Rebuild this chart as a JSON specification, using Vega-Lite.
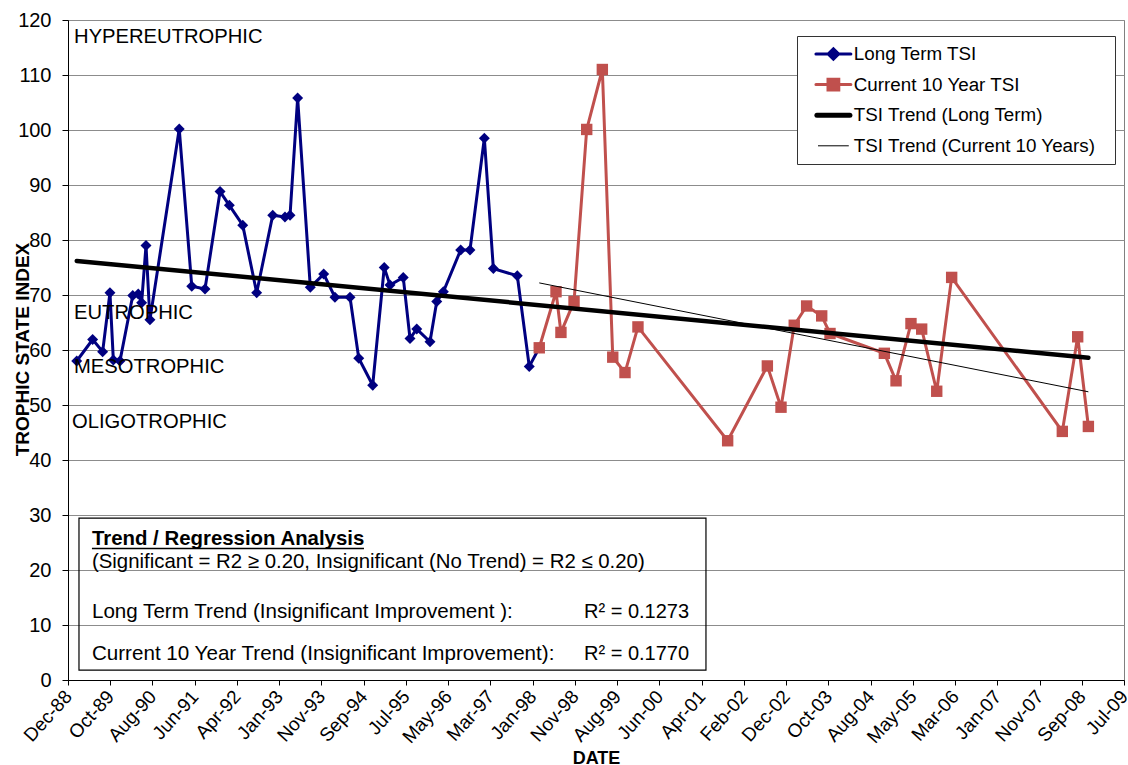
{
  "$schema": "https://vega.github.io/schema/vega-lite/v6.json",
  "width": 1056,
  "height": 660,
  "autosize": {"type": "none"},
  "padding": {"left": 68, "top": 20, "right": 4, "bottom": 85},
  "background": "white",
  "config": {
    "font": "Liberation Sans",
    "view": {"stroke": "#808080", "strokeWidth": 1},
    "axis": {
      "labelFont": "Liberation Sans",
      "titleFont": "Liberation Sans",
      "labelColor": "black",
      "titleColor": "black",
      "domainColor": "black",
      "tickColor": "black",
      "gridColor": "#8c8c8c",
      "gridWidth": 1
    }
  },
  "datasets": {
    "tsi": [
      {"date": "1989-02-23", "tsi": 58.0, "series": "Long Term TSI"},
      {"date": "1989-06-16", "tsi": 61.9, "series": "Long Term TSI"},
      {"date": "1989-08-26", "tsi": 59.7, "series": "Long Term TSI"},
      {"date": "1989-10-17", "tsi": 70.4, "series": "Long Term TSI"},
      {"date": "1989-11-10", "tsi": 58.2, "series": "Long Term TSI"},
      {"date": "1989-12-27", "tsi": 58.0, "series": "Long Term TSI"},
      {"date": "1990-03-28", "tsi": 69.9, "series": "Long Term TSI"},
      {"date": "1990-05-06", "tsi": 70.2, "series": "Long Term TSI"},
      {"date": "1990-05-30", "tsi": 68.6, "series": "Long Term TSI"},
      {"date": "1990-06-30", "tsi": 79.0, "series": "Long Term TSI"},
      {"date": "1990-07-28", "tsi": 65.5, "series": "Long Term TSI"},
      {"date": "1991-02-21", "tsi": 100.2, "series": "Long Term TSI"},
      {"date": "1991-05-21", "tsi": 71.6, "series": "Long Term TSI"},
      {"date": "1991-08-23", "tsi": 71.1, "series": "Long Term TSI"},
      {"date": "1991-12-08", "tsi": 88.8, "series": "Long Term TSI"},
      {"date": "1992-02-12", "tsi": 86.3, "series": "Long Term TSI"},
      {"date": "1992-05-17", "tsi": 82.7, "series": "Long Term TSI"},
      {"date": "1992-08-24", "tsi": 70.4, "series": "Long Term TSI"},
      {"date": "1992-12-16", "tsi": 84.5, "series": "Long Term TSI"},
      {"date": "1993-03-13", "tsi": 84.2, "series": "Long Term TSI"},
      {"date": "1993-04-18", "tsi": 84.5, "series": "Long Term TSI"},
      {"date": "1993-06-11", "tsi": 105.8, "series": "Long Term TSI"},
      {"date": "1993-09-09", "tsi": 71.4, "series": "Long Term TSI"},
      {"date": "1993-12-13", "tsi": 73.8, "series": "Long Term TSI"},
      {"date": "1994-03-03", "tsi": 69.6, "series": "Long Term TSI"},
      {"date": "1994-06-18", "tsi": 69.6, "series": "Long Term TSI"},
      {"date": "1994-08-19", "tsi": 58.5, "series": "Long Term TSI"},
      {"date": "1994-11-26", "tsi": 53.6, "series": "Long Term TSI"},
      {"date": "1995-02-16", "tsi": 75.0, "series": "Long Term TSI"},
      {"date": "1995-03-29", "tsi": 71.8, "series": "Long Term TSI"},
      {"date": "1995-07-01", "tsi": 73.2, "series": "Long Term TSI"},
      {"date": "1995-08-18", "tsi": 62.1, "series": "Long Term TSI"},
      {"date": "1995-10-05", "tsi": 63.8, "series": "Long Term TSI"},
      {"date": "1996-01-07", "tsi": 61.5, "series": "Long Term TSI"},
      {"date": "1996-02-24", "tsi": 68.8, "series": "Long Term TSI"},
      {"date": "1996-04-11", "tsi": 70.6, "series": "Long Term TSI"},
      {"date": "1996-08-12", "tsi": 78.2, "series": "Long Term TSI"},
      {"date": "1996-10-17", "tsi": 78.2, "series": "Long Term TSI"},
      {"date": "1997-01-27", "tsi": 98.5, "series": "Long Term TSI"},
      {"date": "1997-04-01", "tsi": 74.8, "series": "Long Term TSI"},
      {"date": "1997-09-18", "tsi": 73.5, "series": "Long Term TSI"},
      {"date": "1997-12-12", "tsi": 57.0, "series": "Long Term TSI"},
      {"date": "1998-02-21", "tsi": 60.4, "series": "Long Term TSI"},
      {"date": "1998-02-21", "tsi": 60.4, "series": "Current 10 Year TSI"},
      {"date": "1998-06-20", "tsi": 70.6, "series": "Current 10 Year TSI"},
      {"date": "1998-07-25", "tsi": 63.2, "series": "Current 10 Year TSI"},
      {"date": "1998-10-26", "tsi": 68.8, "series": "Current 10 Year TSI"},
      {"date": "1999-01-24", "tsi": 100.1, "series": "Current 10 Year TSI"},
      {"date": "1999-05-15", "tsi": 111.0, "series": "Current 10 Year TSI"},
      {"date": "1999-07-28", "tsi": 58.7, "series": "Current 10 Year TSI"},
      {"date": "1999-10-23", "tsi": 55.9, "series": "Current 10 Year TSI"},
      {"date": "2000-01-23", "tsi": 64.2, "series": "Current 10 Year TSI"},
      {"date": "2001-10-21", "tsi": 43.5, "series": "Current 10 Year TSI"},
      {"date": "2002-07-30", "tsi": 57.1, "series": "Current 10 Year TSI"},
      {"date": "2002-11-04", "tsi": 49.6, "series": "Current 10 Year TSI"},
      {"date": "2003-02-06", "tsi": 64.5, "series": "Current 10 Year TSI"},
      {"date": "2003-05-05", "tsi": 68.0, "series": "Current 10 Year TSI"},
      {"date": "2003-08-20", "tsi": 66.2, "series": "Current 10 Year TSI"},
      {"date": "2003-10-18", "tsi": 63.0, "series": "Current 10 Year TSI"},
      {"date": "2004-11-07", "tsi": 59.4, "series": "Current 10 Year TSI"},
      {"date": "2005-01-29", "tsi": 54.4, "series": "Current 10 Year TSI"},
      {"date": "2005-05-15", "tsi": 64.8, "series": "Current 10 Year TSI"},
      {"date": "2005-07-30", "tsi": 63.8, "series": "Current 10 Year TSI"},
      {"date": "2005-11-14", "tsi": 52.5, "series": "Current 10 Year TSI"},
      {"date": "2006-02-28", "tsi": 73.2, "series": "Current 10 Year TSI"},
      {"date": "2008-04-24", "tsi": 45.2, "series": "Current 10 Year TSI"},
      {"date": "2008-08-11", "tsi": 62.4, "series": "Current 10 Year TSI"},
      {"date": "2008-10-26", "tsi": 46.1, "series": "Current 10 Year TSI"}
    ],
    "trend": [
      {"date": "1989-02-23", "tsi": 76.2, "series": "TSI Trend (Long Term)"},
      {"date": "2008-10-26", "tsi": 58.6, "series": "TSI Trend (Long Term)"},
      {"date": "1998-02-21", "tsi": 72.2, "series": "TSI Trend (Current 10 Years)"},
      {"date": "2008-10-26", "tsi": 52.4, "series": "TSI Trend (Current 10 Years)"}
    ]
  },
  "layer": [
    {
      "data": {"name": "tsi"},
      "transform": [{"filter": "datum.series === 'Long Term TSI'"}],
      "mark": {"type": "line", "strokeWidth": 3},
      "encoding": {
        "x": {
          "field": "date", "type": "temporal",
          "scale": {"type": "utc", "nice": false, "domain": [{"utc": true, "year": 1988, "month": 12, "date": 23}, {"utc": true, "year": 2009, "month": 7, "date": 6}]},
          "axis": {
            "title": "DATE",
            "values": [
              {"utc": true, "year": 1988, "month": 12, "date": 23},
              {"utc": true, "year": 1989, "month": 10, "date": 19},
              {"utc": true, "year": 1990, "month": 8, "date": 15},
              {"utc": true, "year": 1991, "month": 6, "date": 11},
              {"utc": true, "year": 1992, "month": 4, "date": 6},
              {"utc": true, "year": 1993, "month": 1, "date": 31},
              {"utc": true, "year": 1993, "month": 11, "date": 27},
              {"utc": true, "year": 1994, "month": 9, "date": 23},
              {"utc": true, "year": 1995, "month": 7, "date": 20},
              {"utc": true, "year": 1996, "month": 5, "date": 15},
              {"utc": true, "year": 1997, "month": 3, "date": 11},
              {"utc": true, "year": 1998, "month": 1, "date": 5},
              {"utc": true, "year": 1998, "month": 11, "date": 1},
              {"utc": true, "year": 1999, "month": 8, "date": 28},
              {"utc": true, "year": 2000, "month": 6, "date": 23},
              {"utc": true, "year": 2001, "month": 4, "date": 19},
              {"utc": true, "year": 2002, "month": 2, "date": 13},
              {"utc": true, "year": 2002, "month": 12, "date": 10},
              {"utc": true, "year": 2003, "month": 10, "date": 6},
              {"utc": true, "year": 2004, "month": 8, "date": 1},
              {"utc": true, "year": 2005, "month": 5, "date": 28},
              {"utc": true, "year": 2006, "month": 3, "date": 24},
              {"utc": true, "year": 2007, "month": 1, "date": 18},
              {"utc": true, "year": 2007, "month": 11, "date": 14},
              {"utc": true, "year": 2008, "month": 9, "date": 9},
              {"utc": true, "year": 2009, "month": 7, "date": 6}
            ],
            "format": "%b-%y",
            "labelAngle": -48,
            "labelAlign": "right",
            "labelBaseline": "middle",
            "labelFontSize": 19,
            "labelPadding": 8,
            "labelOverlap": false,
            "labelFlush": false,
            "labelBound": false,
            "tickSize": 5,
            "grid": false,
            "titleFontSize": 18,
            "titleFontWeight": "bold",
            "titleBaseline": "alphabetic",
            "titleY": 83
          }
        },
        "y": {
          "field": "tsi", "type": "quantitative",
          "scale": {"domain": [0, 120], "nice": false},
          "axis": {
            "title": "TROPHIC STATE INDEX",
            "values": [0, 10, 20, 30, 40, 50, 60, 70, 80, 90, 100, 110, 120],
            "labelFontSize": 20,
            "labelPadding": 11,
            "tickSize": 6,
            "grid": true,
            "titleFontSize": 19,
            "titleFontWeight": "bold",
            "titleX": -46,
            "titleY": 329,
            "titleAngle": -90,
            "titleAlign": "center",
            "titleBaseline": "middle"
          }
        },
        "color": {
          "field": "series", "type": "nominal",
          "scale": {
            "domain": ["Long Term TSI", "Current 10 Year TSI", "TSI Trend (Long Term)", "TSI Trend (Current 10 Years)"],
            "range": ["#000080", "#C0504D", "#000000", "#000000"]
          },
          "legend": {
            "title": null,
            "orient": "none",
            "legendX": 729,
            "legendY": 16,
            "direction": "vertical",
            "fillColor": "white",
            "strokeColor": "#333333",
            "padding": 8,
            "labelFont": "Liberation Sans",
            "labelFontSize": 18.8,
            "labelColor": "black",
            "labelLimit": 400,
            "labelExpr": "datum.label + '\u00a0\u00a0\u200b'",
            "symbolSize": 225,
            "symbolStrokeWidth": 1.5,
            "symbolOffset": 19,
            "labelOffset": 11,
            "clipHeight": 20,
            "rowPadding": 10.6,
            "encode": {
              "symbols": {
                "update": {
                  "shape": {"signal": "datum.value === 'Long Term TSI' ? 'M-2.33,0L2.33,0M0,-0.7L0.7,0L0,0.7L-0.7,0Z' : datum.value === 'Current 10 Year TSI' ? 'M-2.33,0L2.33,0M-0.72,-0.72L0.72,-0.72L0.72,0.72L-0.72,0.72Z' : datum.value === 'TSI Trend (Long Term)' ? 'M-2.2,0L2.2,0' : 'M-2.0,0L2.0,0'"},
                  "strokeWidth": {"signal": "datum.value === 'TSI Trend (Long Term)' ? 5 : datum.value === 'TSI Trend (Current 10 Years)' ? 1 : 3"},
                  "fill": {"signal": "datum.value === 'Long Term TSI' ? '#000080' : datum.value === 'Current 10 Year TSI' ? '#C0504D' : 'transparent'"},
                  "stroke": {"signal": "datum.value === 'Long Term TSI' ? '#000080' : datum.value === 'Current 10 Year TSI' ? '#C0504D' : '#000000'"},
                  "strokeCap": {"value": "round"},
                  "opacity": {"value": 1}
                }
              }
            }
          }
        }
      }
    },
    {
      "data": {"name": "tsi"},
      "transform": [{"filter": "datum.series === 'Long Term TSI'"}],
      "mark": {"type": "point", "shape": "diamond", "filled": true, "size": 120, "opacity": 1},
      "encoding": {
        "x": {"field": "date", "type": "temporal"},
        "y": {"field": "tsi", "type": "quantitative"},
        "color": {"field": "series", "type": "nominal"}
      }
    },
    {
      "data": {"name": "tsi"},
      "transform": [{"filter": "datum.series === 'Current 10 Year TSI'"}],
      "mark": {"type": "line", "strokeWidth": 3},
      "encoding": {
        "x": {"field": "date", "type": "temporal"},
        "y": {"field": "tsi", "type": "quantitative"},
        "color": {"field": "series", "type": "nominal"}
      }
    },
    {
      "data": {"name": "tsi"},
      "transform": [{"filter": "datum.series === 'Current 10 Year TSI'"}],
      "mark": {"type": "point", "shape": "square", "filled": true, "size": 130, "opacity": 1},
      "encoding": {
        "x": {"field": "date", "type": "temporal"},
        "y": {"field": "tsi", "type": "quantitative"},
        "color": {"field": "series", "type": "nominal"}
      }
    },
    {
      "data": {"name": "trend"},
      "transform": [{"filter": "datum.series === 'TSI Trend (Long Term)'"}],
      "mark": {"type": "line", "strokeWidth": 4.5, "strokeCap": "round"},
      "encoding": {
        "x": {"field": "date", "type": "temporal"},
        "y": {"field": "tsi", "type": "quantitative"},
        "color": {"field": "series", "type": "nominal"}
      }
    },
    {
      "data": {"name": "trend"},
      "transform": [{"filter": "datum.series === 'TSI Trend (Current 10 Years)'"}],
      "mark": {"type": "line", "strokeWidth": 1},
      "encoding": {
        "x": {"field": "date", "type": "temporal"},
        "y": {"field": "tsi", "type": "quantitative"},
        "color": {"field": "series", "type": "nominal"}
      }
    },
    {
      "data": {"values": [{}]},
      "mark": {"type": "text", "align": "left", "baseline": "alphabetic", "fontSize": 20.2, "color": "black"},
      "encoding": {
        "x": {"datum": {"utc": true, "year": 1989, "month": 2, "date": 4}, "type": "temporal"},
        "y": {"datum": 115.8, "type": "quantitative"},
        "text": {"value": "HYPEREUTROPHIC"}
      }
    },
    {
      "data": {"values": [{}]},
      "mark": {"type": "text", "align": "left", "baseline": "alphabetic", "fontSize": 20.2, "color": "black"},
      "encoding": {
        "x": {"datum": {"utc": true, "year": 1989, "month": 2, "date": 4}, "type": "temporal"},
        "y": {"datum": 65.6, "type": "quantitative"},
        "text": {"value": "EUTROPHIC"}
      }
    },
    {
      "data": {"values": [{}]},
      "mark": {"type": "text", "align": "left", "baseline": "alphabetic", "fontSize": 20.2, "color": "black"},
      "encoding": {
        "x": {"datum": {"utc": true, "year": 1989, "month": 2, "date": 4}, "type": "temporal"},
        "y": {"datum": 55.9, "type": "quantitative"},
        "text": {"value": "MESOTROPHIC"}
      }
    },
    {
      "data": {"values": [{}]},
      "mark": {"type": "text", "align": "left", "baseline": "alphabetic", "fontSize": 20.2, "color": "black"},
      "encoding": {
        "x": {"datum": {"utc": true, "year": 1989, "month": 1, "date": 21}, "type": "temporal"},
        "y": {"datum": 45.8, "type": "quantitative"},
        "text": {"value": "OLIGOTROPHIC"}
      }
    },
    {
      "data": {"values": [{}]},
      "mark": {"type": "rect", "fill": null, "fillOpacity": 0, "stroke": "#000000", "strokeWidth": 1.2},
      "encoding": {
        "x": {"datum": {"utc": true, "year": 1989, "month": 3, "date": 11}, "type": "temporal"},
        "x2": {"datum": {"utc": true, "year": 2001, "month": 5, "date": 20}},
        "y": {"datum": 29.45, "type": "quantitative"},
        "y2": {"datum": 1.8}
      }
    },
    {
      "data": {"values": [{}]},
      "mark": {"type": "text", "align": "left", "baseline": "alphabetic", "fontSize": 20.4, "fontWeight": "bold", "color": "black"},
      "encoding": {
        "x": {"datum": {"utc": true, "year": 1989, "month": 6, "date": 11}, "type": "temporal"},
        "y": {"datum": 24.5, "type": "quantitative"},
        "text": {"value": "Trend / Regression Analysis"}
      }
    },
    {
      "data": {"values": [{}]},
      "mark": {"type": "rule", "stroke": "#000000", "strokeWidth": 1.5},
      "encoding": {
        "x": {"datum": {"utc": true, "year": 1989, "month": 6, "date": 11}, "type": "temporal"},
        "x2": {"datum": {"utc": true, "year": 1994, "month": 9, "date": 25}},
        "y": {"datum": 23.9, "type": "quantitative"}
      }
    },
    {
      "data": {"values": [{}]},
      "mark": {"type": "text", "align": "left", "baseline": "alphabetic", "fontSize": 20.4, "color": "black"},
      "encoding": {
        "x": {"datum": {"utc": true, "year": 1989, "month": 6, "date": 11}, "type": "temporal"},
        "y": {"datum": 20.36, "type": "quantitative"},
        "text": {"value": "(Significant = R2 ≥ 0.20, Insignificant (No Trend) = R2 ≤ 0.20)"}
      }
    },
    {
      "data": {"values": [{}]},
      "mark": {"type": "text", "align": "left", "baseline": "alphabetic", "fontSize": 20.6, "color": "black"},
      "encoding": {
        "x": {"datum": {"utc": true, "year": 1989, "month": 6, "date": 11}, "type": "temporal"},
        "y": {"datum": 11.2, "type": "quantitative"},
        "text": {"value": "Long Term Trend (Insignificant Improvement ):"}
      }
    },
    {
      "data": {"values": [{}]},
      "mark": {"type": "text", "align": "left", "baseline": "alphabetic", "fontSize": 20.6, "color": "black"},
      "encoding": {
        "x": {"datum": {"utc": true, "year": 1989, "month": 6, "date": 11}, "type": "temporal"},
        "y": {"datum": 3.64, "type": "quantitative"},
        "text": {"value": "Current 10 Year Trend (Insignificant Improvement):"}
      }
    },
    {
      "data": {"values": [{}]},
      "mark": {"type": "text", "align": "left", "baseline": "alphabetic", "fontSize": 20, "color": "black"},
      "encoding": {
        "x": {"datum": {"utc": true, "year": 1999, "month": 1, "date": 5}, "type": "temporal"},
        "y": {"datum": 11.2, "type": "quantitative"},
        "text": {"value": "R² = 0.1273"}
      }
    },
    {
      "data": {"values": [{}]},
      "mark": {"type": "text", "align": "left", "baseline": "alphabetic", "fontSize": 20, "color": "black"},
      "encoding": {
        "x": {"datum": {"utc": true, "year": 1999, "month": 1, "date": 5}, "type": "temporal"},
        "y": {"datum": 3.64, "type": "quantitative"},
        "text": {"value": "R² = 0.1770"}
      }
    }
  ]
}
